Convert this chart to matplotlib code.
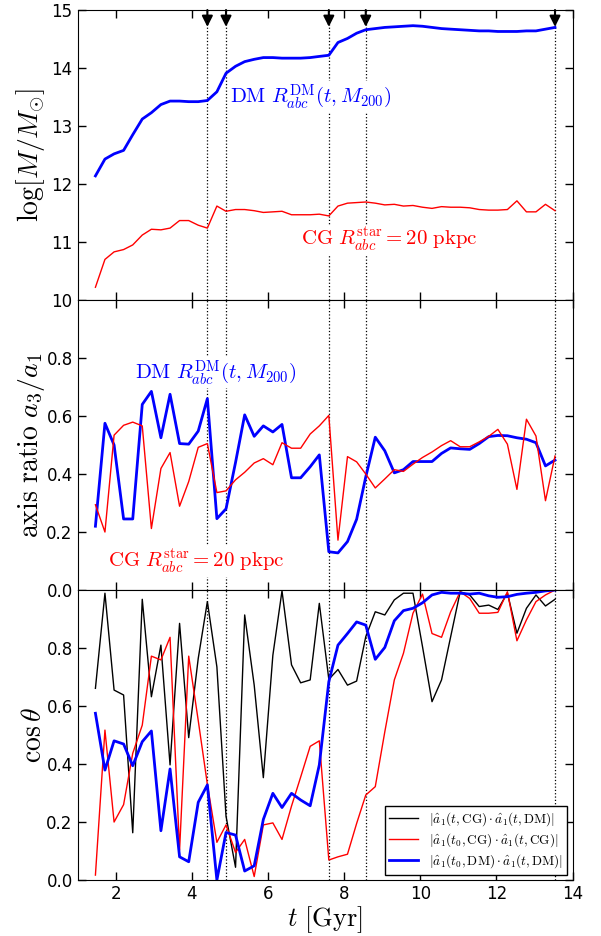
## plot mass, shape and alignment history
from matplotlib.pyplot import subplots, rcParams

rcParams['mathtext.fontset'] = 'cm'
rcParams['font.family'] = 'DejaVu Sans'
rcParams['xtick.direction'] = 'in'
rcParams['ytick.direction'] = 'in'
rcParams['xtick.top'] = True
rcParams['ytick.right'] = True
rcParams['xtick.major.size'] = 6.
rcParams['ytick.major.size'] = 6.

## data
t = [1.47, 1.72, 1.96, 2.21, 2.45, 2.70, 2.94, 3.19, 3.43, 3.68,
     3.92, 4.17, 4.41, 4.66, 4.90, 5.15, 5.39, 5.64, 5.88, 6.13,
     6.37, 6.62, 6.86, 7.11, 7.35, 7.60, 7.84, 8.09, 8.33, 8.57,
     8.82, 9.07, 9.32, 9.56, 9.81, 10.06, 10.31, 10.56, 10.80, 11.05,
     11.30, 11.55, 11.80, 12.04, 12.29, 12.54, 12.79, 13.04, 13.29, 13.54]

mass_dm = [12.14, 12.43, 12.52, 12.58, 12.85, 13.12, 13.23, 13.37, 13.43, 13.43,
           13.42, 13.42, 13.44, 13.59, 13.91, 14.03, 14.11, 14.15, 14.18, 14.18,
           14.17, 14.17, 14.17, 14.18, 14.20, 14.22, 14.44, 14.51, 14.60, 14.66,
           14.68, 14.70, 14.71, 14.72, 14.73, 14.72, 14.70, 14.68, 14.67, 14.66,
           14.65, 14.64, 14.64, 14.63, 14.63, 14.63, 14.64, 14.64, 14.67, 14.70]
mass_cg = [10.22, 10.70, 10.83, 10.87, 10.95, 11.12, 11.22, 11.21, 11.24, 11.37,
           11.37, 11.29, 11.24, 11.62, 11.53, 11.56, 11.56, 11.54, 11.51, 11.52,
           11.53, 11.47, 11.47, 11.47, 11.48, 11.45, 11.62, 11.67, 11.68, 11.69,
           11.67, 11.64, 11.65, 11.62, 11.63, 11.60, 11.58, 11.61, 11.60, 11.60,
           11.59, 11.56, 11.55, 11.55, 11.56, 11.71, 11.52, 11.52, 11.65, 11.54]

ratio_dm = [0.220, 0.575, 0.500, 0.245, 0.245, 0.640, 0.685, 0.525, 0.675, 0.505,
            0.503, 0.548, 0.660, 0.246, 0.280, 0.440, 0.604, 0.530, 0.566, 0.545,
            0.571, 0.387, 0.387, 0.425, 0.466, 0.132, 0.128, 0.167, 0.244, 0.390,
            0.527, 0.480, 0.404, 0.415, 0.443, 0.443, 0.443, 0.471, 0.490, 0.487,
            0.485, 0.505, 0.529, 0.533, 0.532, 0.525, 0.520, 0.508, 0.428, 0.448]
ratio_cg = [0.294, 0.200, 0.534, 0.568, 0.579, 0.566, 0.212, 0.419, 0.474, 0.289,
            0.374, 0.492, 0.505, 0.336, 0.342, 0.380, 0.406, 0.438, 0.453, 0.432,
            0.508, 0.489, 0.489, 0.538, 0.566, 0.602, 0.172, 0.460, 0.442, 0.400,
            0.352, 0.383, 0.415, 0.409, 0.434, 0.457, 0.476, 0.498, 0.515, 0.494,
            0.494, 0.511, 0.530, 0.554, 0.503, 0.347, 0.589, 0.531, 0.308, 0.462]

cos_cg_dm = [0.661, 0.989, 0.655, 0.638, 0.163, 0.968, 0.632, 0.810, 0.397, 0.885,
             0.491, 0.764, 0.960, 0.735, 0.220, 0.044, 0.914, 0.672, 0.353, 0.775,
             0.997, 0.742, 0.680, 0.690, 0.954, 0.692, 0.726, 0.672, 0.686, 0.839,
             0.925, 0.914, 0.966, 0.989, 0.989, 0.805, 0.615, 0.690, 0.839, 0.994,
             0.983, 0.943, 0.948, 0.933, 0.990, 0.851, 0.937, 0.983, 0.945, 0.968]
cos_cg = [0.017, 0.517, 0.200, 0.260, 0.437, 0.534, 0.772, 0.759, 0.837, 0.103,
          0.772, 0.550, 0.330, 0.130, 0.190, 0.095, 0.140, 0.012, 0.190, 0.197,
          0.140, 0.255, 0.355, 0.461, 0.480, 0.069, 0.080, 0.089, 0.195, 0.293,
          0.322, 0.511, 0.690, 0.782, 0.920, 0.986, 0.850, 0.837, 0.925, 0.994,
          0.971, 0.920, 0.920, 0.923, 0.994, 0.825, 0.897, 0.960, 0.983, 1.000]
cos_dm = [0.575, 0.379, 0.480, 0.469, 0.394, 0.477, 0.514, 0.170, 0.383, 0.080,
          0.063, 0.268, 0.328, 0.000, 0.164, 0.155, 0.031, 0.049, 0.209, 0.299,
          0.250, 0.299, 0.276, 0.256, 0.397, 0.684, 0.810, 0.850, 0.890, 0.879,
          0.761, 0.802, 0.894, 0.929, 0.937, 0.956, 0.983, 0.992, 0.989, 0.989,
          0.986, 0.989, 0.980, 0.975, 0.977, 0.985, 0.989, 0.992, 0.997, 1.000]

## merger epochs (arrows + dotted lines)
events = [4.41, 4.90, 7.60, 8.57, 13.54]

lab_dm = r'$\mathrm{DM}\ R_{abc}^{\mathrm{DM}}(t, M_{200})$'
lab_cg = r'$\mathrm{CG}\ R_{abc}^{\mathrm{star}} = 20\ \mathrm{pkpc}$'

## plot
fs = 12.
fig, axes = subplots(3, 1, figsize=(6.01, 9.36), dpi=100., sharex=True)
fig.subplots_adjust(left=.129, right=.9526, bottom=.0598, top=.9893, hspace=0.)
ax1, ax2, ax3 = axes

box = dict(fc='w', ec='none', pad=1.)

## mass
ax1.plot(t, mass_dm, c='b', lw=2.)
ax1.plot(t, mass_cg, c='r', lw=1.)
ax1.text(5.01, 13.5, lab_dm, color='b', fontsize=15, va='center', bbox=box)
ax1.text(6.86, 11.03, lab_cg, color='r', fontsize=15, va='center', bbox=box)
ax1.set(ylim=(10, 15), yticks=[10, 11, 12, 13, 14, 15])
ax1.set_ylabel(r'$\log[M/M_{\odot}]$', fontsize=20)
for _t in events:
    ax1.annotate('', xy=(_t, 14.71), xytext=(_t, 15.),
                 arrowprops=dict(arrowstyle='-|>', color='k', lw=1.5, mutation_scale=16,
                                 shrinkA=0, shrinkB=0))

## axis ratio
ax2.plot(t, ratio_dm, c='b', lw=2.)
ax2.plot(t, ratio_cg, c='r', lw=1.)
ax2.text(2.51, 0.75, lab_dm, color='b', fontsize=15, va='center', bbox=box)
ax2.text(1.80, 0.097, lab_cg, color='r', fontsize=15, va='center', bbox=box)
ax2.set(ylim=(0, 1), yticks=[0., .2, .4, .6, .8])
ax2.set_ylabel(r'$\mathrm{axis\ ratio}\ a_3/a_1$', fontsize=20)

## alignment
ax3.plot(t, cos_cg_dm, c='k', lw=1., label=r'$|\hat{a}_1(t,\mathrm{CG})\cdot\hat{a}_1(t,\mathrm{DM})|$')
ax3.plot(t, cos_cg, c='r', lw=1., label=r'$|\hat{a}_1(t_0,\mathrm{CG})\cdot\hat{a}_1(t,\mathrm{CG})|$')
ax3.plot(t, cos_dm, c='b', lw=2., label=r'$|\hat{a}_1(t_0,\mathrm{DM})\cdot\hat{a}_1(t,\mathrm{DM})|$')
ax3.set(ylim=(0, 1), yticks=[0., .2, .4, .6, .8])
ax3.set_ylabel(r'$\cos\theta$', fontsize=20)
ax3.set_xlabel(r'$t\ [\mathrm{Gyr}]$', fontsize=19, labelpad=1.)
ax3.legend(loc='lower right', fontsize=9.5, fancybox=False, edgecolor='k',
           framealpha=1., borderaxespad=.4, handlelength=2.2, labelspacing=.25,
           borderpad=.35)

for ax in axes:
    for _t in events:
        ax.axvline(_t, c='k', ls=':', lw=.9, zorder=1)
    ax.tick_params(which='major', labelsize=fs, width=1.)
    ax.yaxis.set_label_coords(-.062, .5)

ax3.set(xlim=(1, 14), xticks=[2, 4, 6, 8, 10, 12, 14])

fig.savefig('out.png')
